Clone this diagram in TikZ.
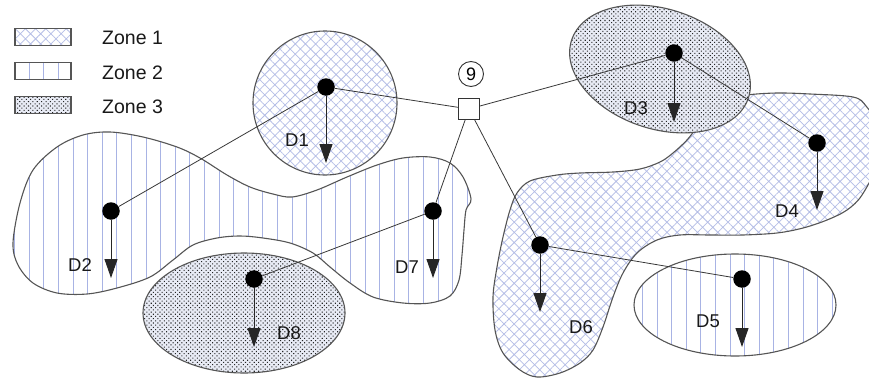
\documentclass[tikz,border=0pt]{standalone}
\usepackage{fontspec}
\setmainfont{Liberation Sans}
\usetikzlibrary{patterns.meta,arrows.meta}
\definecolor{hatchblue}{RGB}{180,189,230}
\definecolor{lineblue}{RGB}{168,179,228}
\definecolor{dotbg}{RGB}{232,235,245}
\definecolor{edgegray}{RGB}{85,85,85}
\begin{document}
\begin{tikzpicture}[x=1pt,y=-1pt,
  zoneborder/.style={draw=edgegray, line width=1.1pt},
  zoneone/.style={preaction={fill=white}, pattern={Hatch[angle=45,distance=7.2pt,line width=0.75pt]}, pattern color=hatchblue},
  zonetwo/.style={preaction={fill=white}, pattern={Lines[angle=90,distance=14.6pt,line width=1pt]}, pattern color=lineblue},
  zonethree/.style={preaction={fill=dotbg}, pattern={Dots[distance=3.1pt,angle=45,radius=0.75pt]}, pattern color=black!85},
  blackdot/.style={circle, fill=black, inner sep=0pt, minimum size=17.5pt},
  conn/.style={draw=black!78, line width=0.8pt},
  droparrow/.style={draw=black!85, line width=1pt, -{Triangle[length=19pt,width=13pt]}},
  lab/.style={font=\fontsize{18.5}{18.5}\selectfont, inner sep=0pt, text=black!90},
  legbox/.style={zoneborder, minimum width=56pt, minimum height=17pt, inner sep=0pt}
]
\useasboundingbox (0,0) rectangle (869,380);
\clip (0,0) rectangle (869,380);

% Legend
\node[legbox, zoneone] (lg1) at (43,37) {};
\node[legbox, zonetwo] (lg2) at (43,71) {};
\node[legbox, zonethree] (lg3) at (43,105) {};
\node[lab, anchor=west, font=\fontsize{19.5}{19.5}\selectfont] (lt1) at (102,38) {Zone 1};
\node[lab, anchor=west, font=\fontsize{19.5}{19.5}\selectfont] (lt2) at (102,73) {Zone 2};
\node[lab, anchor=west, font=\fontsize{19.5}{19.5}\selectfont] (lt3) at (102,107) {Zone 3};

% Zone 2 blob (D2, D7)
\path[zoneborder, zonetwo] plot[smooth cycle, tension=0.55] coordinates {
 (13,243) (20,203) (33,170) (57,147) (83,135) (110,132) (143,137) (177,147)
 (200,158) (227,175) (250,187) (273,194) (292,197) (317,190) (347,177) (377,165)
 (403,158) (430,157) (450,163) (463,177) (471,199) (466,210) (464,230) (462,255)
 (459,280) (450,296) (430,303) (403,303) (373,297) (350,283) (330,267) (313,253)
 (290,243) (263,238) (240,236) (217,238) (193,245) (173,260) (150,277) (117,288)
 (87,294) (57,293) (33,283) (18,265)};

% Zone 1 blob (D4, D6)
\path[zoneborder, zoneone] plot[smooth cycle, tension=0.55] coordinates {
 (517,193) (530,181) (557,175) (580,173) (613,172) (640,169) (660,162) (673,153)
 (687,140) (697,127) (710,110) (727,100) (747,95) (777,93) (810,94) (853,97)
 (866,106) (876,125) (876,165) (862,195) (847,210) (827,220) (803,228) (777,233)
 (743,235) (710,235) (680,235) (657,240) (637,253) (623,273) (613,297) (603,327)
 (593,350) (580,363) (560,373) (537,377) (520,370) (503,353) (495,330) (493,297)
 (497,267) (503,237) (510,210)};

% D1 circle
\path[zoneborder, zoneone] (325,103) circle[radius=72];
% D3 ellipse
\path[zoneborder, zonethree] (660,69) ellipse[x radius=93, y radius=60, rotate=-18];
% D5 ellipse
\path[zoneborder, zonetwo] (735,305) ellipse[x radius=101, y radius=51];
% D8 ellipse
\path[zoneborder, zonethree] (244,313) ellipse[x radius=101, y radius=60];

% Hub
\node[draw=black!80, line width=0.9pt, fill=white, minimum size=21pt, inner sep=0pt] (hub) at (469,109) {};
\node[draw=black!80, line width=0.9pt, circle, minimum size=25pt, inner sep=0pt, font=\fontsize{18}{18}\selectfont] (nine) at (471,74) {9};

% Dots
\node[blackdot] (d1) at (326,87) {};
\node[blackdot] (d2) at (111,211) {};
\node[blackdot] (d3) at (674,53) {};
\node[blackdot] (d4) at (817,143) {};
\node[blackdot] (d5) at (742,279) {};
\node[blackdot] (d6) at (540,245) {};
\node[blackdot] (d7) at (433,211) {};
\node[blackdot] (d8) at (254,279) {};

% Links
\draw[conn] (hub) -- (d1);
\draw[conn] (d1) -- (d2);
\draw[conn] (hub) -- (d3);
\draw[conn] (d3) -- (d4);
\draw[conn] (hub) -- (d7);
\draw[conn] (d7) -- (d8);
\draw[conn] (hub) -- (d6);
\draw[conn] (d6) -- (d5);

% Arrow tips
\coordinate (t1) at (326,163);
\coordinate (t2) at (111,278);
\coordinate (t3) at (674,122);
\coordinate (t4) at (817,210);
\coordinate (t5) at (742,347);
\coordinate (t6) at (540,312);
\coordinate (t7) at (433,278);
\coordinate (t8) at (254,347);
\foreach \i in {1,...,8} {\draw[droparrow] (d\i) -- (t\i);}

% Labels
\node[lab] (l1) at (297,140) {D1};
\node[lab] (l2) at (80,265) {D2};
\node[lab] (l3) at (636,108) {D3};
\node[lab] (l4) at (787,211) {D4};
\node[lab] (l5) at (708,321) {D5};
\node[lab] (l6) at (581,327) {D6};
\node[lab] (l7) at (407,267) {D7};
\node[lab] (l8) at (289,333) {D8};
\end{tikzpicture}
\end{document}
